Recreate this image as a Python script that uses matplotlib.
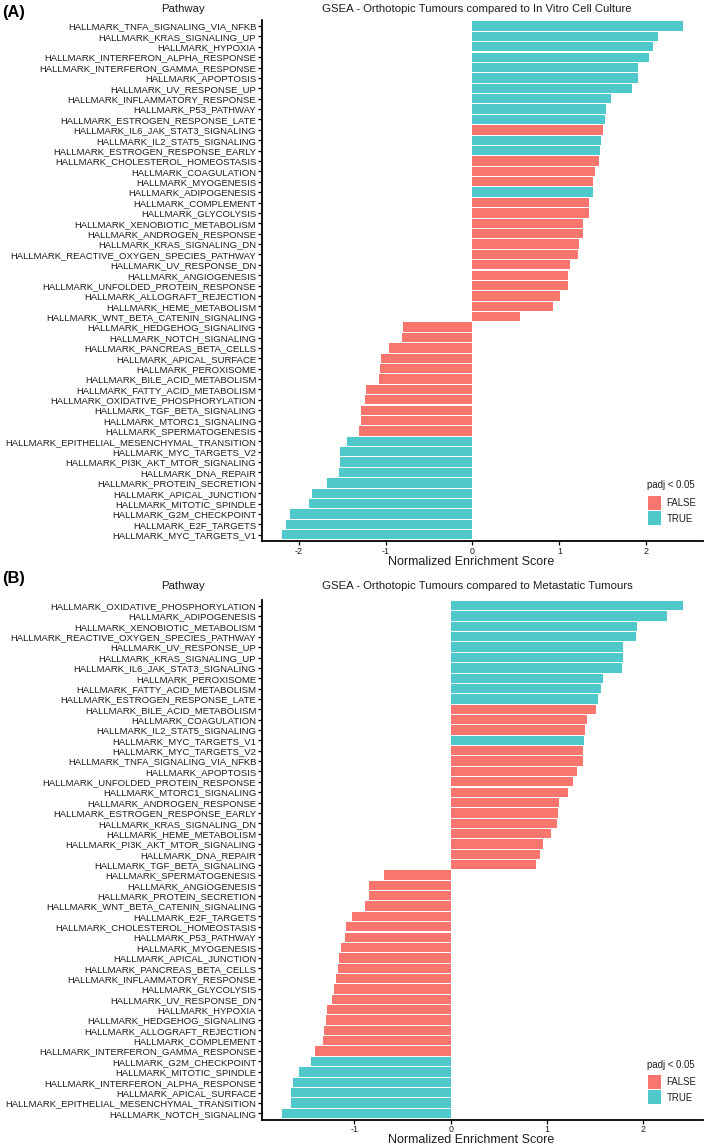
import matplotlib
matplotlib.use('Agg')
import matplotlib.pyplot as plt
from matplotlib import font_manager
from matplotlib.patches import Patch
import numpy as np

# ---------------- data ----------------
pathways_a = [
    "HALLMARK_TNFA_SIGNALING_VIA_NFKB", "HALLMARK_KRAS_SIGNALING_UP", "HALLMARK_HYPOXIA",
    "HALLMARK_INTERFERON_ALPHA_RESPONSE", "HALLMARK_INTERFERON_GAMMA_RESPONSE", "HALLMARK_APOPTOSIS",
    "HALLMARK_UV_RESPONSE_UP", "HALLMARK_INFLAMMATORY_RESPONSE", "HALLMARK_P53_PATHWAY",
    "HALLMARK_ESTROGEN_RESPONSE_LATE", "HALLMARK_IL6_JAK_STAT3_SIGNALING", "HALLMARK_IL2_STAT5_SIGNALING",
    "HALLMARK_ESTROGEN_RESPONSE_EARLY", "HALLMARK_CHOLESTEROL_HOMEOSTASIS", "HALLMARK_COAGULATION",
    "HALLMARK_MYOGENESIS", "HALLMARK_ADIPOGENESIS", "HALLMARK_COMPLEMENT", "HALLMARK_GLYCOLYSIS",
    "HALLMARK_XENOBIOTIC_METABOLISM", "HALLMARK_ANDROGEN_RESPONSE", "HALLMARK_KRAS_SIGNALING_DN",
    "HALLMARK_REACTIVE_OXYGEN_SPECIES_PATHWAY", "HALLMARK_UV_RESPONSE_DN", "HALLMARK_ANGIOGENESIS",
    "HALLMARK_UNFOLDED_PROTEIN_RESPONSE", "HALLMARK_ALLOGRAFT_REJECTION", "HALLMARK_HEME_METABOLISM",
    "HALLMARK_WNT_BETA_CATENIN_SIGNALING", "HALLMARK_HEDGEHOG_SIGNALING", "HALLMARK_NOTCH_SIGNALING",
    "HALLMARK_PANCREAS_BETA_CELLS", "HALLMARK_APICAL_SURFACE", "HALLMARK_PEROXISOME",
    "HALLMARK_BILE_ACID_METABOLISM", "HALLMARK_FATTY_ACID_METABOLISM", "HALLMARK_OXIDATIVE_PHOSPHORYLATION",
    "HALLMARK_TGF_BETA_SIGNALING", "HALLMARK_MTORC1_SIGNALING", "HALLMARK_SPERMATOGENESIS",
    "HALLMARK_EPITHELIAL_MESENCHYMAL_TRANSITION", "HALLMARK_MYC_TARGETS_V2", "HALLMARK_PI3K_AKT_MTOR_SIGNALING",
    "HALLMARK_DNA_REPAIR", "HALLMARK_PROTEIN_SECRETION", "HALLMARK_APICAL_JUNCTION",
    "HALLMARK_MITOTIC_SPINDLE", "HALLMARK_G2M_CHECKPOINT", "HALLMARK_E2F_TARGETS", "HALLMARK_MYC_TARGETS_V1",
]
nes_a = [2.42, 2.13, 2.07, 2.03, 1.90, 1.90, 1.83, 1.59, 1.54, 1.52,
         1.50, 1.48, 1.47, 1.46, 1.41, 1.38, 1.38, 1.34, 1.34, 1.27,
         1.27, 1.22, 1.21, 1.12, 1.10, 1.10, 1.01, 0.93, 0.55, -0.80,
         -0.81, -0.96, -1.05, -1.06, -1.07, -1.22, -1.24, -1.28, -1.28, -1.30,
         -1.44, -1.52, -1.52, -1.54, -1.67, -1.84, -1.88, -2.10, -2.15, -2.19]
sig_a = [True, True, True, True, True, True, True, True, True, True,
         False, True, True, False, False, False, True, False, False, False,
         False, False, False, False, False, False, False, False, False, False,
         False, False, False, False, False, False, False, False, False, False,
         True, True, True, True, True, True, True, True, True, True]

pathways_b = [
    "HALLMARK_OXIDATIVE_PHOSPHORYLATION", "HALLMARK_ADIPOGENESIS", "HALLMARK_XENOBIOTIC_METABOLISM",
    "HALLMARK_REACTIVE_OXYGEN_SPECIES_PATHWAY", "HALLMARK_UV_RESPONSE_UP", "HALLMARK_KRAS_SIGNALING_UP",
    "HALLMARK_IL6_JAK_STAT3_SIGNALING", "HALLMARK_PEROXISOME", "HALLMARK_FATTY_ACID_METABOLISM",
    "HALLMARK_ESTROGEN_RESPONSE_LATE", "HALLMARK_BILE_ACID_METABOLISM", "HALLMARK_COAGULATION",
    "HALLMARK_IL2_STAT5_SIGNALING", "HALLMARK_MYC_TARGETS_V1", "HALLMARK_MYC_TARGETS_V2",
    "HALLMARK_TNFA_SIGNALING_VIA_NFKB", "HALLMARK_APOPTOSIS", "HALLMARK_UNFOLDED_PROTEIN_RESPONSE",
    "HALLMARK_MTORC1_SIGNALING", "HALLMARK_ANDROGEN_RESPONSE", "HALLMARK_ESTROGEN_RESPONSE_EARLY",
    "HALLMARK_KRAS_SIGNALING_DN", "HALLMARK_HEME_METABOLISM", "HALLMARK_PI3K_AKT_MTOR_SIGNALING",
    "HALLMARK_DNA_REPAIR", "HALLMARK_TGF_BETA_SIGNALING", "HALLMARK_SPERMATOGENESIS",
    "HALLMARK_ANGIOGENESIS", "HALLMARK_PROTEIN_SECRETION", "HALLMARK_WNT_BETA_CATENIN_SIGNALING",
    "HALLMARK_E2F_TARGETS", "HALLMARK_CHOLESTEROL_HOMEOSTASIS", "HALLMARK_P53_PATHWAY",
    "HALLMARK_MYOGENESIS", "HALLMARK_APICAL_JUNCTION", "HALLMARK_PANCREAS_BETA_CELLS",
    "HALLMARK_INFLAMMATORY_RESPONSE", "HALLMARK_GLYCOLYSIS", "HALLMARK_UV_RESPONSE_DN",
    "HALLMARK_HYPOXIA", "HALLMARK_HEDGEHOG_SIGNALING", "HALLMARK_ALLOGRAFT_REJECTION",
    "HALLMARK_COMPLEMENT", "HALLMARK_INTERFERON_GAMMA_RESPONSE", "HALLMARK_G2M_CHECKPOINT",
    "HALLMARK_MITOTIC_SPINDLE", "HALLMARK_INTERFERON_ALPHA_RESPONSE", "HALLMARK_APICAL_SURFACE",
    "HALLMARK_EPITHELIAL_MESENCHYMAL_TRANSITION", "HALLMARK_NOTCH_SIGNALING",
]
nes_b = [2.41, 2.24, 1.93, 1.92, 1.79, 1.79, 1.78, 1.58, 1.56, 1.53,
         1.51, 1.41, 1.39, 1.38, 1.37, 1.37, 1.31, 1.27, 1.22, 1.12,
         1.11, 1.10, 1.04, 0.96, 0.93, 0.88, -0.69, -0.85, -0.85, -0.89,
         -1.02, -1.09, -1.10, -1.14, -1.16, -1.17, -1.19, -1.21, -1.23, -1.28,
         -1.29, -1.31, -1.32, -1.41, -1.45, -1.57, -1.64, -1.66, -1.66, -1.75]
sig_b = [True, True, True, True, True, True, True, True, True, True,
         False, False, False, True, False, False, False, False, False, False,
         False, False, False, False, False, False, False, False, False, False,
         False, False, False, False, False, False, False, False, False, False,
         False, False, False, False, True, True, True, True, True, True]

titles = ["GSEA - Orthotopic Tumours compared to In Vitro Cell Culture",
          "GSEA - Orthotopic Tumours compared to Metastatic Tumours"]
panel_tags = ["(A)", "(B)"]
xticks_a = [-2, -1, 0, 1, 2]
xticks_b = [-1, 0, 1, 2]
legend_title = "padj < 0.05"
legend_labels = ["FALSE", "TRUE"]
xlabel = "Normalized Enrichment Score"
ylabel = "Pathway"

# ---------------- style ----------------
available = {f.name for f in font_manager.fontManager.ttflist}
if "Liberation Sans Narrow" in available:
    FONT = ["Liberation Sans Narrow", "DejaVu Sans"]
    scale = 1.0
else:
    FONT = ["Liberation Sans", "DejaVu Sans"]
    scale = 0.82
plt.rcParams['font.family'] = FONT

COL_FALSE = "#F8766D"
COL_TRUE = "#4FC8CC"
TXT = "#1e1e1e"

W, H = 709, 1147
fig = plt.figure(figsize=(W / 100, H / 100), dpi=100)


def box(left, top, right, bottom):
    return [left / W, 1 - bottom / H, (right - left) / W, (bottom - top) / H]


def draw_panel(rect, paths, nes, sig, xticks, title, tag, tag_y, head_y, xlab_y, legt_y, leg_y):
    ax = fig.add_axes(rect)
    n = len(paths)
    pos = np.arange(n)
    colors = [COL_TRUE if s else COL_FALSE for s in sig]
    ax.barh(pos, nes, height=0.9, color=colors, edgecolor='none')
    lo, hi = min(nes), max(nes)
    rng = hi - lo
    ax.set_xlim(lo - 0.05 * rng, hi + 0.05 * rng)
    ax.set_ylim(n - 1 + 0.6, -0.6)
    ax.set_yticks(pos)
    ax.set_yticklabels(paths, fontsize=8.3 * scale, color=TXT)
    ax.set_xticks(xticks)
    ax.set_xticklabels([str(t) for t in xticks], fontsize=7.8 * scale, color=TXT)
    for s in ['top', 'right']:
        ax.spines[s].set_visible(False)
    for s in ['left', 'bottom']:
        ax.spines[s].set_linewidth(1.3)
        ax.spines[s].set_color('black')
    ax.tick_params(axis='both', length=3, width=0.9, color='black', pad=1.2)
    ax.set_facecolor('white')

    fig.text(2 / W, 1 - tag_y / H, tag, fontsize=12.5 * scale + 1.5, fontweight='bold',
             ha='left', va='center', family=["Liberation Sans", "DejaVu Sans"])
    fig.text(183 / W, 1 - head_y / H, ylabel, fontsize=10 * scale, ha='center', va='center', color=TXT)
    fig.text(477 / W, 1 - head_y / H, title, fontsize=10 * scale, ha='center', va='center', color=TXT)
    fig.text(471 / W, 1 - xlab_y / H, xlabel, fontsize=11 * scale, ha='center', va='center', color=TXT)

    # legend title and entries
    fig.text(647 / W, 1 - legt_y / H, legend_title, fontsize=8.5 * scale, ha='left', va='center', color=TXT)
    handles = [Patch(facecolor=COL_FALSE, edgecolor='none'),
               Patch(facecolor=COL_TRUE, edgecolor='none')]
    leg = fig.legend(handles, legend_labels,
                     loc='upper left', bbox_to_anchor=(646 / W, 1 - leg_y / H),
                     frameon=False, fontsize=8.5 * scale,
                     handlelength=1.4, handleheight=1.85, handletextpad=0.5,
                     labelspacing=0.15, borderpad=0.2, borderaxespad=0.0)
    for t in leg.get_texts():
        t.set_color(TXT)
    return ax


draw_panel(box(262, 19.8, 703, 541), pathways_a, nes_a, sig_a, xticks_a, titles[0], panel_tags[0],
           tag_y=13, head_y=9, xlab_y=562, legt_y=485, leg_y=494)
draw_panel(box(262, 599.5, 703, 1119.5), pathways_b, nes_b, sig_b, xticks_b, titles[1], panel_tags[1],
           tag_y=578, head_y=586, xlab_y=1140, legt_y=1065, leg_y=1073)

fig.savefig("out.png", dpi=100, facecolor='white')
